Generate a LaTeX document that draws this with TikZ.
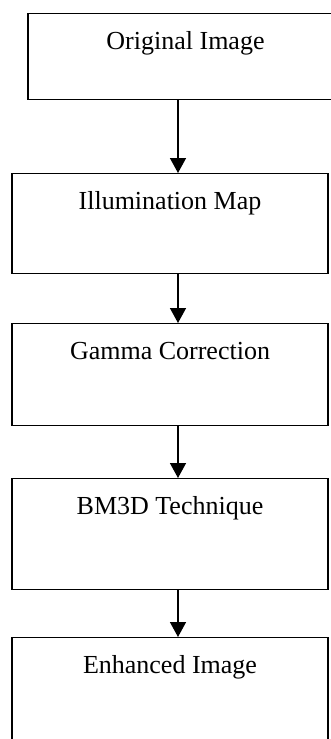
\documentclass[tikz,border=0pt]{standalone}
\usepackage{fontspec}
\setmainfont{Liberation Serif}
\usetikzlibrary{arrows.meta}
\begin{document}
\begin{tikzpicture}[x=1pt,y=-1pt,
  stepbox/.style={draw, line width=1.3pt, inner sep=0pt, minimum width=316pt,
    text height=36pt, text depth=#1, anchor=north,
    font=\fontsize{26}{30}\selectfont},
  arr/.style={line width=1.5pt, -{Triangle[width=16pt,length=15pt]}}]
\useasboundingbox (0,0) rectangle (331,739);
\clip (0,0) rectangle (331,739);
\fill[white] (0,0) rectangle (331,739);
\coordinate (ax) at (178,0);
\node[stepbox=50pt, minimum width=315pt] (b1) at (185.5,13) {Original Image};
\node[stepbox=64pt] (b2) at (170,173) {Illumination Map};
\node[stepbox=66pt] (b3) at (170,323) {Gamma Correction};
\node[stepbox=75pt] (b4) at (170,478) {BM3D Technique};
\node[stepbox=90pt] (b5) at (170,637) {Enhanced Image};
\draw[arr] (b1.south -| ax) -- (b2.north -| ax);
\draw[arr] (b2.south -| ax) -- (b3.north -| ax);
\draw[arr] (b3.south -| ax) -- (b4.north -| ax);
\draw[arr] (b4.south -| ax) -- (b5.north -| ax);
\end{tikzpicture}
\end{document}
